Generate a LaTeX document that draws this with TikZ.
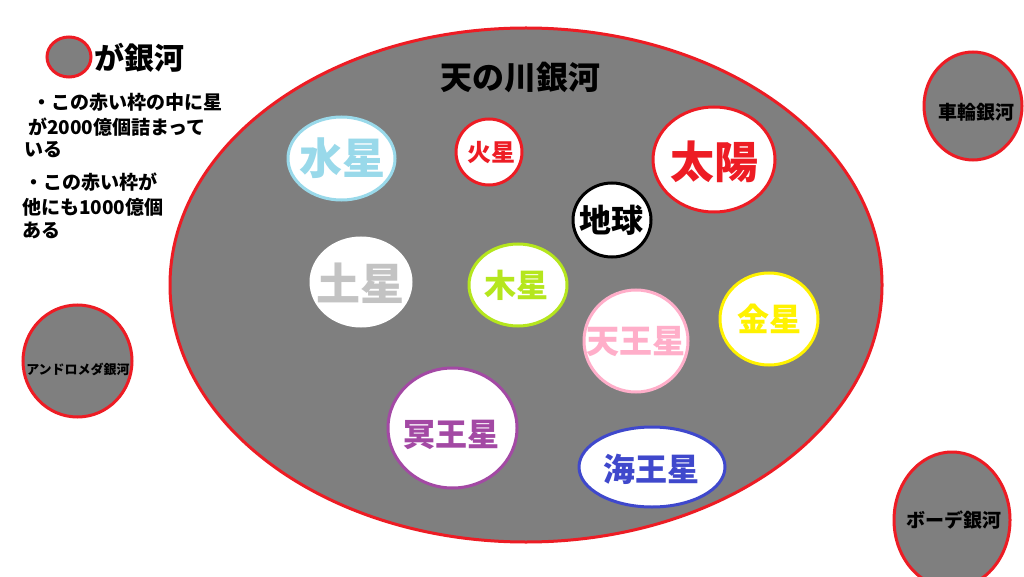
\documentclass[tikz,border=0pt]{standalone}
\usepackage{fontspec}
\setmainfont{Noto Sans CJK JP}
\usetikzlibrary{shapes.geometric}
\definecolor{mred}{HTML}{ED1C24}
\definecolor{mgray}{HTML}{7F7F7F}
\definecolor{mblue}{HTML}{99D9EA}
\definecolor{mlgray}{HTML}{C3C3C3}
\definecolor{mlime}{HTML}{B5E61D}
\definecolor{myellow}{HTML}{FFF200}
\definecolor{mpink}{HTML}{FFAEC9}
\definecolor{mpurple}{HTML}{A349A4}
\definecolor{mnavy}{HTML}{3F48CC}
\newcommand\fsz[1]{\fontsize{#1}{#1}\selectfont\bfseries}
\tikzset{
  galaxy/.style={ellipse, draw=mred, fill=mgray, line width=3pt, inner sep=0pt},
  planet/.style={ellipse, draw=#1, fill=white, line width=3pt, inner sep=0pt},
  ptext/.style={text=#1, inner sep=0pt},
  note/.style={anchor=west, inner sep=0pt, font=\fsz{19}},
}
\begin{document}
\begin{tikzpicture}[x=1pt,y=-1pt]
\useasboundingbox (0,0) rectangle (1024,577);
\fill[white] (0,0) rectangle (1024,577);

% legend
\node[galaxy, minimum width=44, minimum height=40] (legend) at (69,57) {};
\node[ptext=black, font=\fsz{30}] (legendtext) at (139,58) {が銀河};
\node[note] (n1) at (32,102) {・この赤い枠の中に星};
\node[note] (n2) at (28,127) {が2000億個詰まって};
\node[note] (n3) at (24,150) {いる};
\node[note] (n4) at (24,182) {・この赤い枠が};
\node[note] (n5) at (22,207) {他にも1000億個};
\node[note] (n6) at (22,230) {ある};

% milky way
\node[galaxy, minimum width=712, minimum height=514] (milky) at (526,285) {};
\node[ptext=black, font=\fsz{32}] (milkytext) at (520,78) {天の川銀河};

% other galaxies
\node[galaxy, minimum width=109, minimum height=112] (andromeda) at (77.5,361) {};
\node[ptext=black, font=\fsz{13}] (andromedatext) at (78,369) {アンドロメダ銀河};
\node[galaxy, minimum width=98, minimum height=108] (wheel) at (973,106) {};
\node[ptext=black, font=\fsz{19}] (wheeltext) at (976,112) {車輪銀河};
\node[galaxy, minimum width=116, minimum height=136] (bode) at (952,520) {};
\node[ptext=black, font=\fsz{19}] (bodetext) at (954,520) {ボーデ銀河};

% planets
\node[planet=mblue, minimum width=107, minimum height=83] (mercury) at (341.5,158.5) {};
\node[ptext=mblue, font=\fsz{43}] (mercurytext) at (342,158) {水星};
\node[planet=mred, minimum width=66, minimum height=66] (mars) at (489,152) {};
\node[ptext=mred, font=\fsz{24}] (marstext) at (491,153) {火星};
\node[planet=white, minimum width=100, minimum height=88] (saturn) at (361,282) {};
\node[ptext=mlgray, font=\fsz{44}] (saturntext) at (360,283) {土星};
\node[planet=mlime, minimum width=98, minimum height=82] (jupiter) at (518,285) {};
\node[ptext=mlime, font=\fsz{32}] (jupitertext) at (516,285) {木星};
\node[planet=black, minimum width=78, minimum height=74] (earth) at (612,220) {};
\node[ptext=black, font=\fsz{32}] (earthtext) at (611,220) {地球};
\node[planet=mred, minimum width=122, minimum height=105] (sun) at (714,159.5) {};
\node[ptext=mred, font=\fsz{44}] (suntext) at (714,162) {太陽};
\node[planet=myellow, minimum width=98, minimum height=92] (venus) at (769,319) {};
\node[ptext=myellow, font=\fsz{32}] (venustext) at (769,319) {金星};
\node[planet=mpink, minimum width=104, minimum height=102] (uranus) at (636,341) {};
\node[ptext=mpink, font=\fsz{33}] (uranustext) at (636,342) {天王星};
\node[planet=mpurple, minimum width=129, minimum height=120] (pluto) at (452.5,428) {};
\node[ptext=mpurple, font=\fsz{32}] (plutotext) at (451,435) {冥王星};
\node[planet=mnavy, minimum width=146, minimum height=80] (neptune) at (652,467) {};
\node[ptext=mnavy, font=\fsz{32}] (neptunetext) at (651,469) {海王星};
\end{tikzpicture}
\end{document}
